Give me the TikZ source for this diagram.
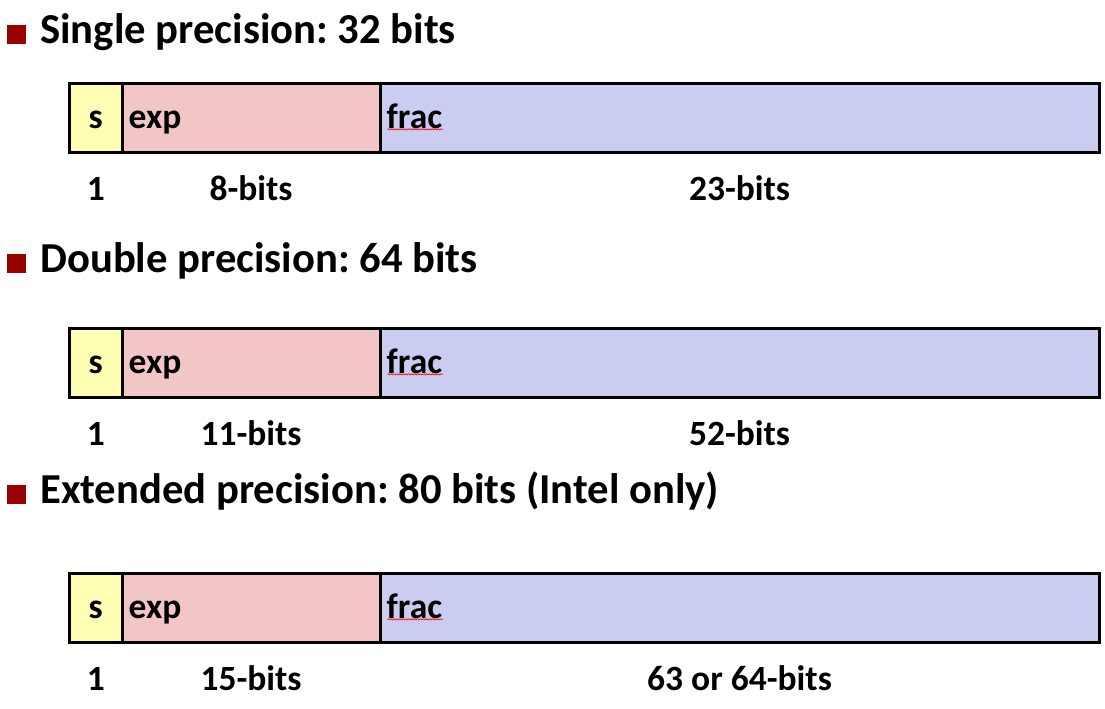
\documentclass[tikz,border=0pt]{standalone}
\usepackage{fontspec}
\setmainfont{Carlito}
\frenchspacing
\usetikzlibrary{positioning,decorations.pathmorphing}

\definecolor{bulletred}{HTML}{990000}
\definecolor{signyellow}{HTML}{FFFFB3}
\definecolor{exppink}{HTML}{F2C6C6}
\definecolor{fraclilac}{HTML}{CBCCF2}

\newcommand{\headfont}{\fontsize{32}{38}\selectfont\bfseries}
\newcommand{\fieldfont}{\fontsize{26.6}{31}\selectfont\bfseries}

\begin{document}
\begin{tikzpicture}[
		x=0.75pt, y=-0.75pt,
		heading/.style={anchor=base west, inner sep=0pt, font=\headfont},
		bullet/.style={anchor=south west, fill=bulletred, minimum size=14.25pt, inner sep=0pt},
		field/.style={draw=black, line width=2.25pt, minimum height=51.75pt,
			inner ysep=0pt, inner xsep=5pt, outer sep=0pt,
			text height=18pt, text depth=3pt, font=\fieldfont},
		sfield/.style={field, fill=signyellow, minimum width=39.4pt, inner xsep=0pt, text width=39.4pt, align=center},
		expfield/.style={field, fill=exppink, text width=183.5pt, align=left},
		fracfield/.style={field, fill=fraclilac, text width=529.25pt, align=left},
		bitlabel/.style={anchor=base, inner sep=0pt, font=\fieldfont},
		spell/.style={draw=red, line width=0.5pt, decorate,
			decoration={snake, amplitude=0.45pt, segment length=2.2pt}}
		]
		
		\useasboundingbox (0,0) rectangle (1105,708);
		
		% Single precision
		\node[bullet] (bul1) at (7,44) {};
		\node[heading] (head1) at (40,43) {Single precision: 32 bits};
		\node[sfield, anchor=west] (s1) at (69.5,118) {s};
		\node[expfield, right=0pt of s1] (exp1) {exp};
		\node[fracfield, right=0pt of exp1] (frac1) {frac};
		\draw[spell] ([xshift=5.5pt, yshift=-8.5pt]frac1.west) -- ++(42pt,0);
		\node[bitlabel] (w1s) at (s1.center |- 0,200) {1};
		\node[bitlabel] (w1e) at (exp1.center |- 0,200) {8-bits};
		\node[bitlabel] (w1f) at (frac1.center |- 0,200) {23-bits};
		
		% Double precision
		\node[bullet] (bul2) at (7,273) {};
		\node[heading] (head2) at (40,272) {Double precision: 64 bits};
		\node[sfield, anchor=west] (s2) at (69.5,363) {s};
		\node[expfield, right=0pt of s2] (exp2) {exp};
		\node[fracfield, right=0pt of exp2] (frac2) {frac};
		\draw[spell] ([xshift=5.5pt, yshift=-8.5pt]frac2.west) -- ++(42pt,0);
		\node[bitlabel] (w2s) at (s2.center |- 0,445) {1};
		\node[bitlabel] (w2e) at (exp2.center |- 0,445) {11-bits};
		\node[bitlabel] (w2f) at (frac2.center |- 0,445) {52-bits};
		
		% Extended precision
		\node[bullet] (bul3) at (7,504) {};
		\node[heading] (head3) at (40,503) {Extended precision: 80 bits (Intel only)};
		\node[sfield, anchor=west] (s3) at (69.5,608) {s};
		\node[expfield, right=0pt of s3] (exp3) {exp};
		\node[fracfield, right=0pt of exp3] (frac3) {frac};
		\draw[spell] ([xshift=5.5pt, yshift=-8.5pt]frac3.west) -- ++(42pt,0);
		\node[bitlabel] (w3s) at (s3.center |- 0,690) {1};
		\node[bitlabel] (w3e) at (exp3.center |- 0,690) {15-bits};
		\node[bitlabel] (w3f) at (frac3.center |- 0,690) {63 or 64-bits};
		
	\end{tikzpicture}
\end{document}
